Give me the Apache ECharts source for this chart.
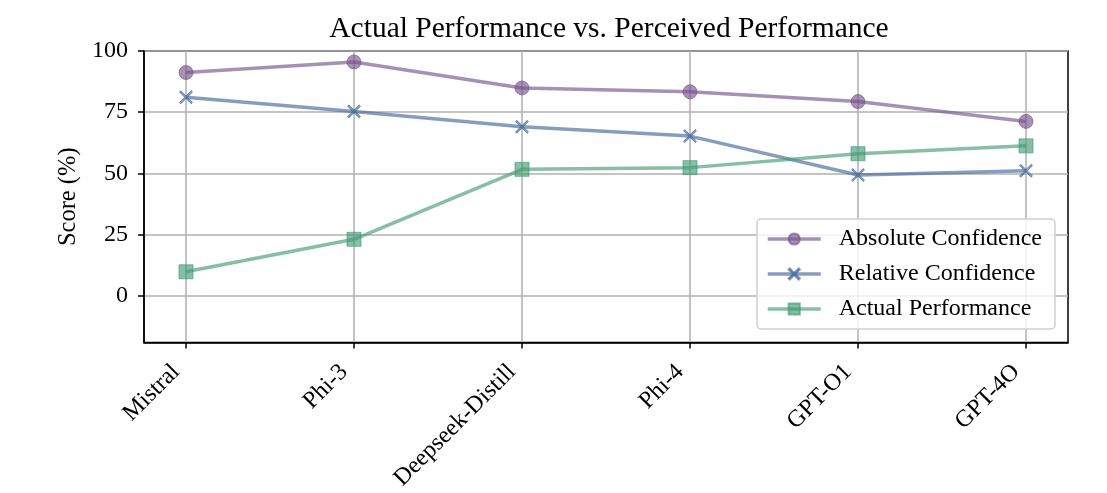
<!DOCTYPE html>
<html>
<head>
<meta charset="utf-8">
<script src="https://cdn.jsdelivr.net/npm/echarts@6/dist/echarts.min.js"></script>
<style>html,body{margin:0;padding:0;background:#fff}#c{width:1107px;height:493px}</style>
</head>
<body>
<div id="c"></div>
<script>
const categories = ['Mistral', 'Phi-3', 'Deepseek-Distill', 'Phi-4', 'GPT-O1', 'GPT-4O'];
const absoluteConfidence = [91.2, 95.5, 84.9, 83.3, 79.3, 71.2];
const relativeConfidence = [81.1, 75.3, 69.0, 65.2, 49.3, 51.0];
const actualPerformance = [9.7, 23.0, 51.6, 52.3, 58.0, 61.2];
const yTicks = [0, 25, 50, 75, 100];

const FONT = '"Liberation Serif", "DejaVu Serif", serif';
const crossPath = 'path://M10,0 L50,40 L90,0 L100,10 L60,50 L100,90 L90,100 L50,60 L10,100 L0,90 L40,50 L0,10 Z';
const toPairs = arr => arr.map((v, i) => [i, v]);

function mkSeries(name, data, color, symbol, size) {
  return {
    name: name, type: 'line', data: toPairs(data),
    symbol: symbol, symbolSize: size,
    lineStyle: { color: color, width: 3.5, opacity: 0.65 },
    itemStyle: { color: color, opacity: 0.65, borderColor: color, borderWidth: 1 },
    emphasis: { disabled: true }
  };
}

const chart = echarts.init(document.getElementById('c'), null, { renderer: 'canvas' });
chart.setOption({
  animation: false,
  backgroundColor: '#fff',
  textStyle: { fontFamily: FONT, color: '#000' },
  title: {
    text: 'Actual Performance vs. Perceived Performance',
    left: 604, top: 9, textAlign: 'center',
    textStyle: { fontFamily: FONT, fontWeight: 'normal', fontSize: 29.5, color: '#000' }
  },
  legend: {
    orient: 'vertical', right: 52, bottom: 164,
    itemWidth: 53, itemHeight: 14, itemGap: 11,
    padding: [8, 13, 8, 9],
    backgroundColor: 'rgba(255,255,255,0.8)',
    borderColor: '#d0d0d0', borderWidth: 1.5, borderRadius: 4,
    lineStyle: { width: 3.5 },
    textStyle: { fontFamily: FONT, fontSize: 24, color: '#000', padding: [0, 0, 0, 13] },
    data: ['Absolute Confidence', 'Relative Confidence', 'Actual Performance']
  },
  grid: {
    left: 144, right: 39, top: 51, bottom: 150,
    show: true, borderColor: '#000', borderWidth: 1.5, backgroundColor: 'transparent'
  },
  xAxis: {
    type: 'value', min: -0.25, max: 5.25,
    axisLine: { show: true, onZero: false, lineStyle: { color: '#000', width: 1.5 } },
    axisTick: { show: true, length: 6, lineStyle: { color: '#000', width: 1.5 }, customValues: [0, 1, 2, 3, 4, 5] },
    axisLabel: {
      customValues: [0, 1, 2, 3, 4, 5],
      formatter: v => categories[Math.round(v)],
      rotate: 45, fontFamily: FONT, fontSize: 24, color: '#000', margin: 16,
      padding: [0, 14, 0, 0]
    },
    splitLine: { show: true, lineStyle: { color: '#b0b0b0', width: 1.5 } }
  },
  yAxis: {
    type: 'value', min: -19.2, max: 100,
    name: 'Score (%)', nameLocation: 'middle', nameGap: 62, nameRotate: 90,
    nameTextStyle: { fontFamily: FONT, fontSize: 24.5, color: '#000' },
    axisLine: { show: true, onZero: false, lineStyle: { color: '#000', width: 1.5 } },
    axisTick: { show: true, length: 6, lineStyle: { color: '#000', width: 1.5 }, customValues: yTicks },
    axisLabel: { customValues: yTicks, fontFamily: FONT, fontSize: 24, color: '#000', margin: 16 },
    splitLine: { show: true, lineStyle: { color: '#b0b0b0', width: 1.5 } }
  },
  series: [
    mkSeries('Absolute Confidence', absoluteConfidence, '#77548d', 'circle', 14),
    mkSeries('Relative Confidence', relativeConfidence, '#46699b', crossPath, 13),
    mkSeries('Actual Performance', actualPerformance, '#459b77', 'rect', 14)
  ]
});
</script>
</body>
</html>
